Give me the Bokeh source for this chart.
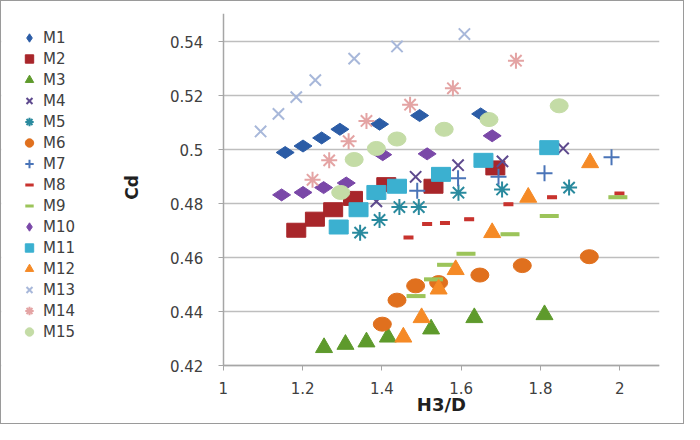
import math
from bokeh.plotting import figure
from bokeh.models import Range1d, FixedTicker, Legend, LegendItem, BoxAnnotation, Label
from bokeh.embed import file_html
from bokeh.resources import INLINE

# ---- data ----
series_names = ["M1", "M2", "M3", "M4", "M5", "M6", "M7", "M8", "M9", "M10",
                "M11", "M12", "M13", "M14", "M15"]
M1_x = [1.156, 1.201, 1.248, 1.294, 1.394, 1.495, 1.649]
M1_y = [0.4990, 0.5014, 0.5044, 0.5076, 0.5095, 0.5127, 0.5133]
M2_x = [1.184, 1.231, 1.277, 1.327, 1.411, 1.530, 1.686]
M2_y = [0.4702, 0.4743, 0.4778, 0.4820, 0.4871, 0.4865, 0.4933]
M3_x = [1.254, 1.308, 1.361, 1.415, 1.524, 1.633, 1.810]
M3_y = [0.4267, 0.4279, 0.4288, 0.4306, 0.4336, 0.4378, 0.4389]
M4_x = [1.386, 1.485, 1.592, 1.704, 1.857]
M4_y = [0.4809, 0.4900, 0.4943, 0.4957, 0.5005]
M5_x = [1.345, 1.394, 1.444, 1.493, 1.593, 1.703, 1.872]
M5_y = [0.4693, 0.4740, 0.4788, 0.4788, 0.4841, 0.4853, 0.4860]
M6_x = [1.401, 1.438, 1.485, 1.543, 1.647, 1.754, 1.923]
M6_y = [0.4354, 0.4443, 0.4496, 0.4508, 0.4536, 0.4571, 0.4604]
M7_x = [1.489, 1.592, 1.694, 1.810, 1.979]
M7_y = [0.4848, 0.4895, 0.4900, 0.4913, 0.4972]
M8_x = [1.467, 1.514, 1.559, 1.620, 1.719, 1.829, 1.999]
M8_y = [0.4675, 0.4725, 0.4729, 0.4743, 0.4798, 0.4824, 0.4838]
M9_x = [1.486, 1.530, 1.563, 1.612, 1.723, 1.822, 1.995]
M9_y = [0.4458, 0.4520, 0.4574, 0.4615, 0.4687, 0.4755, 0.4824]
M10_x = [1.147, 1.201, 1.253, 1.310, 1.402, 1.514, 1.678]
M10_y = [0.4833, 0.4842, 0.4860, 0.4877, 0.4982, 0.4985, 0.5052]
M11_x = [1.291, 1.341, 1.386, 1.438, 1.549, 1.656, 1.822]
M11_y = [0.4714, 0.4778, 0.4842, 0.4865, 0.4909, 0.4961, 0.5008]
M12_x = [1.454, 1.500, 1.543, 1.586, 1.678, 1.769, 1.925]
M12_y = [0.4306, 0.4378, 0.4484, 0.4556, 0.4693, 0.4824, 0.4952]
M13_x = [1.094, 1.139, 1.184, 1.232, 1.330, 1.438, 1.608]
M13_y = [0.5068, 0.5133, 0.5195, 0.5258, 0.5338, 0.5383, 0.5429]
M14_x = [1.225, 1.267, 1.316, 1.361, 1.471, 1.579, 1.738]
M14_y = [0.4889, 0.4961, 0.5032, 0.5107, 0.5167, 0.5228, 0.5330]
M15_x = [1.296, 1.330, 1.386, 1.438, 1.557, 1.670, 1.847]
M15_y = [0.4842, 0.4964, 0.5005, 0.5040, 0.5076, 0.5112, 0.5163]

x_ticks = [1.0, 1.2, 1.4, 1.6, 1.8, 2.0]
x_tick_labels = ["1", "1.2", "1.4", "1.6", "1.8", "2"]
y_ticks = [0.42, 0.44, 0.46, 0.48, 0.50, 0.52, 0.54]
y_tick_labels = ["0.42", "0.44", "0.46", "0.48", "0.5", "0.52", "0.54"]
x_min, x_max = 1.0, 2.1
y_min = 0.42
x_title = "H3/D"
y_title = "Cd"

colors = {
    "M1": "#2B5CA6", "M2": "#A8262A", "M3": "#5E9A2C", "M4": "#5E4A8E",
    "M5": "#2A8A9E", "M6": "#E0701E", "M7": "#4A74B8", "M8": "#C8332E",
    "M9": "#9CC45A", "M10": "#7A48A8", "M11": "#3BB0D0", "M12": "#F58A26",
    "M13": "#A8B8DA", "M14": "#E4A4A4", "M15": "#C4DCA6",
}

FONT = "DejaVu Sans"

# The frame spans the whole figure; legend, axes and titles live inside it.
p = figure(width=684, height=424, output_backend="svg", toolbar_location=None,
           x_range=Range1d(0.4406, x_max), y_range=Range1d(0.3986, 0.5505),
           min_border_left=0, min_border_right=26, min_border_top=12,
           min_border_bottom=2)
p.background_fill_color = "white"
p.border_fill_color = "white"
p.outline_line_color = None
p.styles = {"border": "1px solid #9A9A9A", "box-sizing": "border-box"}

p.xgrid.visible = False
p.ygrid.ticker = FixedTicker(ticks=y_ticks)
p.ygrid.grid_line_color = "#BEBEBE"
p.ygrid.grid_line_width = 1.5

# white mask over the gridlines in the legend area (left of x = 1)
mask = BoxAnnotation(right=x_min, fill_color="white", fill_alpha=1.0,
                     line_color=None, level="underlay")
p.add_layout(mask)

p.xaxis.ticker = FixedTicker(ticks=x_ticks)
p.yaxis.ticker = FixedTicker(ticks=y_ticks)
p.xaxis.bounds = (x_min, x_max)
p.yaxis.bounds = (y_min, 0.5505)
p.xaxis.fixed_location = y_min
p.yaxis.fixed_location = x_min
p.xaxis.major_label_overrides = {t: l for t, l in zip(x_ticks, x_tick_labels)}
p.yaxis.major_label_overrides = {t: l for t, l in zip(y_ticks, y_tick_labels)}
for ax in (p.xaxis, p.yaxis):
    ax.axis_line_color = "#A6A6A6"
    ax.axis_line_width = 1.5
    ax.major_tick_line_color = "#A6A6A6"
    ax.major_tick_in = 0
    ax.major_tick_out = 5
    ax.minor_tick_line_color = None
    ax.major_label_text_font = FONT
    ax.major_label_text_font_size = "15px"
    ax.major_label_text_color = "#404040"
p.xaxis.major_label_standoff = 11
p.yaxis.major_label_standoff = 15

p.add_layout(Label(x=(x_min + x_max) / 2, y=19, y_units="screen", text=x_title,
                   text_align="center", text_baseline="middle", text_font=FONT,
                   text_font_size="18px", text_font_style="bold",
                   text_color="#202020"))
p.add_layout(Label(x=130, y=236, x_units="screen", y_units="screen", text=y_title,
                   angle=math.pi / 2, text_align="center", text_baseline="middle",
                   text_font=FONT, text_font_size="17px", text_font_style="bold",
                   text_color="#202020"))

data = {
    "M1": (M1_x, M1_y), "M2": (M2_x, M2_y), "M3": (M3_x, M3_y), "M4": (M4_x, M4_y),
    "M5": (M5_x, M5_y), "M6": (M6_x, M6_y), "M7": (M7_x, M7_y), "M8": (M8_x, M8_y),
    "M9": (M9_x, M9_y), "M10": (M10_x, M10_y), "M11": (M11_x, M11_y),
    "M12": (M12_x, M12_y), "M13": (M13_x, M13_y), "M14": (M14_x, M14_y),
    "M15": (M15_x, M15_y),
}
kind = {"M1": "diamond", "M2": "rect", "M3": "triangle", "M4": "x", "M5": "asterisk",
        "M6": "ellipse", "M7": "cross", "M8": "dash_s", "M9": "dash_l", "M10": "diamond",
        "M11": "rect", "M12": "triangle", "M13": "x", "M14": "asterisk", "M15": "ellipse"}

legend_items = []
for name in series_names:
    xs, ys = data[name]
    c = colors[name]
    k = kind[name]
    if k == "diamond":
        r = p.scatter(xs, ys, marker="diamond", size=18, angle=math.pi / 2,
                      fill_color=c, line_color=c)
    elif k == "rect":
        # legend glyph (hidden under the rectangles)
        r = p.scatter(xs, ys, marker="square", size=11, fill_color=c, line_color=c)
        p.rect(xs, ys, width=19, height=14, width_units="screen", height_units="screen",
               fill_color=c, line_color=c)
    elif k == "triangle":
        r = p.scatter(xs, ys, marker="triangle", size=17, fill_color=c, line_color=c)
    elif k in ("x", "asterisk", "cross"):
        r = p.scatter(xs, ys, marker=k, size=16, line_color=c, line_width=2)
    elif k == "ellipse":
        r = p.scatter(xs, ys, marker="circle", size=11, fill_color=c, line_color=c)
        p.ellipse(xs, ys, width=18, height=14, width_units="screen", height_units="screen",
                  fill_color=c, line_color=c)
    elif k == "dash_s":
        r = p.scatter(xs, ys, marker="dash", size=9, line_color=c, line_width=3)
        p.rect(xs, ys, width=10, height=4, width_units="screen", height_units="screen",
               fill_color=c, line_color=None)
    else:
        r = p.scatter(xs, ys, marker="dash", size=17, line_color=c, line_width=3)
        p.rect(xs, ys, width=19, height=4, width_units="screen", height_units="screen",
               fill_color=c, line_color=None)
    legend_items.append(LegendItem(label=name, renderers=[r]))

legend = Legend(items=legend_items, location=(16, 81))
legend.label_text_font = FONT
legend.label_text_font_size = "15px"
legend.label_text_color = "#404040"
legend.glyph_width = 24
legend.glyph_height = 21
legend.label_height = 21
legend.spacing = 0
legend.padding = 4
legend.margin = 0
legend.label_standoff = 2
legend.border_line_color = None
legend.background_fill_alpha = 0
p.add_layout(legend, "center")

open("out.html", "w").write(file_html(p, INLINE))
